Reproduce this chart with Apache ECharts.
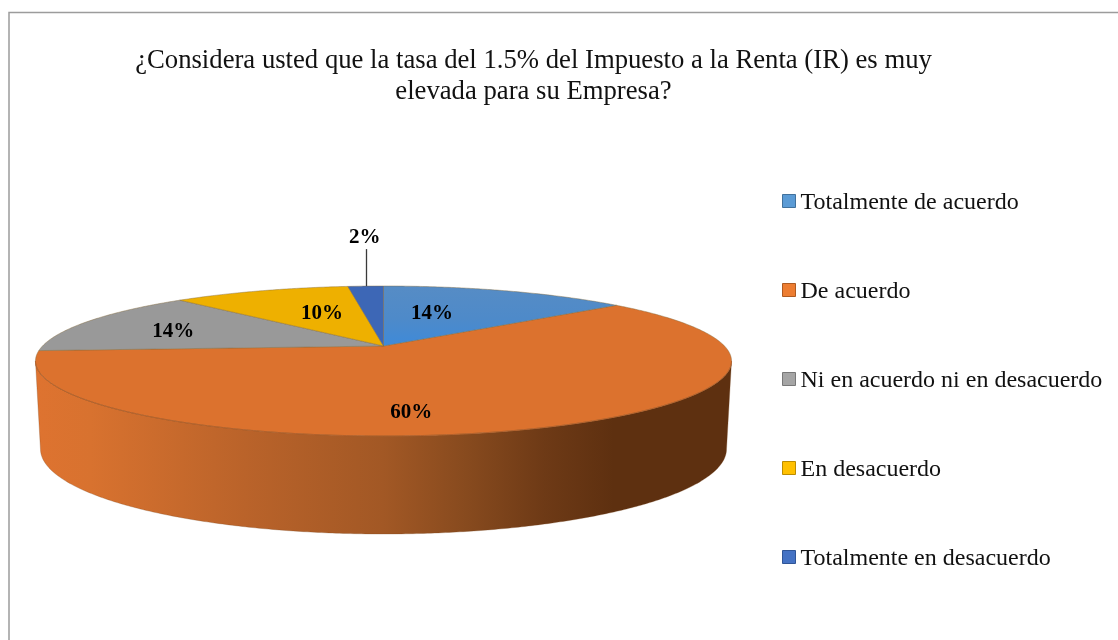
<!DOCTYPE html>
<html><head><meta charset="utf-8">
<style>html,body{margin:0;padding:0;background:#fff}#c{width:1118px;height:640px}</style>
<script src="https://cdn.jsdelivr.net/npm/echarts@6/dist/echarts.min.js"></script>
</head><body><div id="c"></div>
<script>
var categories = ['Totalmente de acuerdo','De acuerdo','Ni en acuerdo ni en desacuerdo','En desacuerdo','Totalmente en desacuerdo'];
var values = [14,60,14,10,2];
var titleLines = ['¿Considera usted que la tasa del 1.5% del Impuesto a la Renta (IR) es muy','elevada para su Empresa?'];
var topColors = ['#5189C5','#DC722E','#999999','#EEB000','#3D67B6'];
var legendColors = ['#5B9BD5','#ED7D31','#A5A5A5','#FFC000','#4472C4'];
var legendBorders = ['#41719C','#AE5A21','#787878','#BC8C00','#2F5597'];

var FONT = '"Liberation Serif","Times New Roman",serif';
var total = values.reduce(function(a,b){return a+b;},0);
// Perspective disc geometry
var CX=383.5, CY=346, R=341, H=72, K=0.2;
var EY=361, ERX=348.5, ERY=75, BRX=343.5, BY=449, BRY=85;
var FRONT0=101.5, FRONT1=258.5;
// label placement: [radius fraction, dx, dy]
var labelPlace=[[.6,-30,3],[.6,-57,21],[.6,-28,1],[.6,17,3],[1,-1,-49]];
function proj(deg,r){
  var a=deg*Math.PI/180,u=Math.sin(a)*r,v=-Math.cos(a)*r,s=1/(1-K*v);
  return [CX+R*u*s,CY+H*v*s];
}
function wallBottom(p){
  var X=(p[0]-CX)/ERX,Y=(p[1]-EY)/ERY;
  return [CX+BRX*X,BY+BRY*Y];
}
var wallFill=new echarts.graphic.LinearGradient(35,0,732,0,[
  {offset:0,color:'#DE7330'},{offset:.08,color:'#D8722F'},{offset:.3,color:'#BA632A'},
  {offset:.5,color:'#A25825'},{offset:.62,color:'#874A1E'},{offset:.73,color:'#6E3A16'},
  {offset:.83,color:'#5E3010'},{offset:1,color:'#5E3010'}],true);
var blueFill=new echarts.graphic.LinearGradient(0,286,0,345,[
  {offset:0,color:'#568CC5'},{offset:.55,color:'#4E8AC9'},{offset:1,color:'#3F8AD8'}],true);
var faceFills=[blueFill,topColors[1],topColors[2],topColors[3],topColors[4]];

function renderSlice(idx){
  return function(params,api){
    var val=api.value(0),before=0;
    for(var i=0;i<idx;i++)before+=values[i];
    var a0=before/total*360,a1=(before+val)/total*360,kids=[],pts=[],t,n;
    // front wall
    var w0=Math.max(a0,FRONT0),w1=Math.min(a1,FRONT1);
    if(w1>w0){
      var top=[],bot=[];n=Math.ceil(w1-w0)*2;
      for(t=0;t<=n;t++){var p=proj(w0+(w1-w0)*t/n,1);top.push(p);bot.unshift(wallBottom(p));}
      kids.push({type:'polygon',shape:{points:top.concat(bot)},style:{fill:wallFill,stroke:'rgba(120,70,30,.35)',lineWidth:.8}});
    }
    // top face
    pts.push(proj(0,0));
    n=Math.max(2,Math.ceil(a1-a0)*2);
    for(t=0;t<=n;t++)pts.push(proj(a0+(a1-a0)*t/n,1));
    kids.push({type:'polygon',shape:{points:pts},style:{fill:faceFills[idx],stroke:'rgba(130,105,60,.55)',lineWidth:.8}});
    if(w1>w0){
      var seam=[];n=Math.ceil(w1-w0)*2;
      for(t=0;t<=n;t++)seam.push(proj(w0+(w1-w0)*t/n,1));
      kids.push({type:'polyline',shape:{points:seam},style:{fill:'none',stroke:'#B5602A',lineWidth:1}});
    }
    // data label
    var lp=labelPlace[idx],anchor=proj((a0+a1)/2,lp[0]);
    if(lp[0]>=1){
      var lx=Math.round(anchor[0])+0.5;
      kids.push({type:'line',shape:{x1:lx,y1:anchor[1],x2:lx,y2:anchor[1]+lp[2]+12},style:{stroke:'#3a3a3a',lineWidth:1.3}});
    }
    kids.push({type:'text',z2:50,style:{x:anchor[0]+lp[1],y:anchor[1]+lp[2],text:Math.round(val/total*100)+'%',
      fill:'#000',font:'bold 21px '+FONT,textAlign:'center',textVerticalAlign:'middle'}});
    return {type:'group',children:kids};
  };
}
var series=categories.map(function(name,i){
  return {type:'custom',name:name,coordinateSystem:'none',renderItem:renderSlice(i),
    data:[[values[i]]],itemStyle:{color:legendColors[i]},z:i===1?1:2,animation:false,silent:true};
});
var chart=echarts.init(document.getElementById('c'),null,{renderer:'canvas'});
chart.setOption({
  animation:false,backgroundColor:'#fff',
  title:{text:titleLines.join('\n'),left:528.5,top:41,textAlign:'center',
    textStyle:{fontFamily:FONT,fontSize:26.7,fontWeight:'normal',color:'#111',lineHeight:30.5}},
  legend:{orient:'vertical',left:777,top:186,itemWidth:13,itemHeight:13,itemGap:65,
    formatter:'{a|{name}}',
    textStyle:{fontFamily:FONT,fontSize:24,color:'#111',
      rich:{a:{fontFamily:FONT,fontSize:24,color:'#111',padding:[4,0,0,0]}}},selectedMode:false,
    data:categories.map(function(n,i){return {name:n,icon:'rect',itemStyle:{color:legendColors[i],borderColor:legendBorders[i],borderWidth:1}};})},
  graphic:[{type:'rect',silent:true,z:-1,shape:{x:9,y:12.5,width:1200,height:700},style:{fill:'none',stroke:'#9C9C9C',lineWidth:1.5}}],
  series:series
});
</script></body></html>
